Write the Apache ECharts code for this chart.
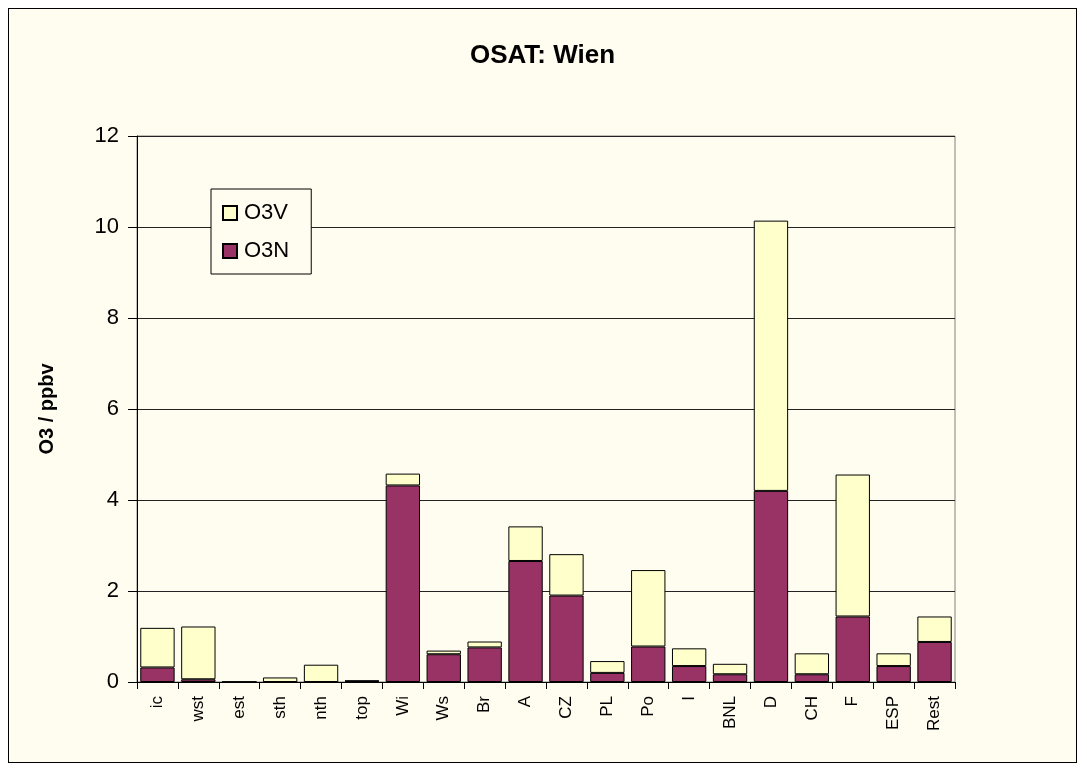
<!DOCTYPE html>
<html>
<head>
<meta charset="utf-8">
<script src="https://cdn.jsdelivr.net/npm/echarts@6/dist/echarts.min.js"></script>
<style>
    body { margin: 0; background: #ffffff; }
    #frame {
        position: absolute; left: 8px; top: 8px;
        width: 1067px; height: 753px;
        border: 1px solid #000;
        background: #fffdf0;
    }
    #chart { width: 1067px; height: 753px; }
</style>
</head>
<body>
<div id="frame"><div id="chart"></div></div>
<script>
// source regions
const categories = ['ic', 'wst', 'est', 'sth', 'nth', 'top', 'Wi', 'Ws', 'Br', 'A',
    'CZ', 'PL', 'Po', 'I', 'BNL', 'D', 'CH', 'F', 'ESP', 'Rest'];

// O3N: lower part of each bar
const o3n = [0.32, 0.06, 0, 0, 0, 0.02, 4.32, 0.61, 0.76, 2.66,
    1.90, 0.20, 0.78, 0.35, 0.17, 4.20, 0.17, 1.44, 0.35, 0.88];

// O3V: stacked on top
const o3v = [0.87, 1.16, 0, 0.10, 0.38, 0.01, 0.26, 0.08, 0.13, 0.76,
    0.91, 0.26, 1.68, 0.39, 0.23, 5.94, 0.46, 3.12, 0.28, 0.56];

const yTicks = [0, 2, 4, 6, 8, 10, 12];

const font = 'Arial, "Liberation Sans", sans-serif';

const chart = echarts.init(document.getElementById('chart'));

chart.setOption({
    animation: false,
    title: {
        text: 'OSAT: Wien',
        left: 'center',
        top: 29,
        textStyle: { fontFamily: font, fontSize: 26, fontWeight: 'bold', color: '#000' }
    },
    legend: {
        data: ['O3V', 'O3N'],
        orient: 'vertical',
        left: 202,
        top: 180,
        padding: [13, 22, 12, 11],
        itemGap: 16,
        itemWidth: 14,
        itemHeight: 14,
        icon: 'rect',
        backgroundColor: '#fffdf0',
        borderColor: '#000',
        borderWidth: 1,
        borderRadius: 0,
        textStyle: { fontFamily: font, fontSize: 22, color: '#000', padding: [0, 0, 0, 2] }
    },
    grid: {
        left: 128,
        top: 127,
        right: 121,
        bottom: 80,
        show: true,
        backgroundColor: '#fffdf0',
        borderColor: '#808080',
        borderWidth: 1
    },
    xAxis: {
        type: 'category',
        data: categories,
        axisLine: { lineStyle: { color: '#000', width: 1 } },
        axisTick: { show: true, length: 7, lineStyle: { color: '#000' } },
        axisLabel: {
            rotate: 90,
            margin: 14,
            fontFamily: font,
            fontSize: 17,
            color: '#000',
            interval: 0
        }
    },
    yAxis: {
        type: 'value',
        min: yTicks[0],
        max: yTicks[yTicks.length - 1],
        interval: 2,
        name: 'O3 / ppbv',
        nameLocation: 'middle',
        nameGap: 80,
        nameTextStyle: { fontFamily: font, fontSize: 20, fontWeight: 'bold', color: '#000' },
        axisLine: { show: true, lineStyle: { color: '#000', width: 1 } },
        axisTick: { show: true, length: 9, lineStyle: { color: '#000' } },
        axisLabel: { margin: 18, fontFamily: font, fontSize: 22, color: '#000' },
        splitLine: { show: true, lineStyle: { color: '#222', width: 1 } }
    },
    series: [
        {
            name: 'O3N',
            type: 'bar',
            stack: 'o3',
            data: o3n,
            barCategoryGap: '16%',
            itemStyle: { color: '#993366', borderColor: '#000', borderWidth: 1 }
        },
        {
            name: 'O3V',
            type: 'bar',
            stack: 'o3',
            data: o3v,
            itemStyle: { color: '#ffffcc', borderColor: '#000', borderWidth: 1 }
        }
    ]
});
</script>
</body>
</html>
